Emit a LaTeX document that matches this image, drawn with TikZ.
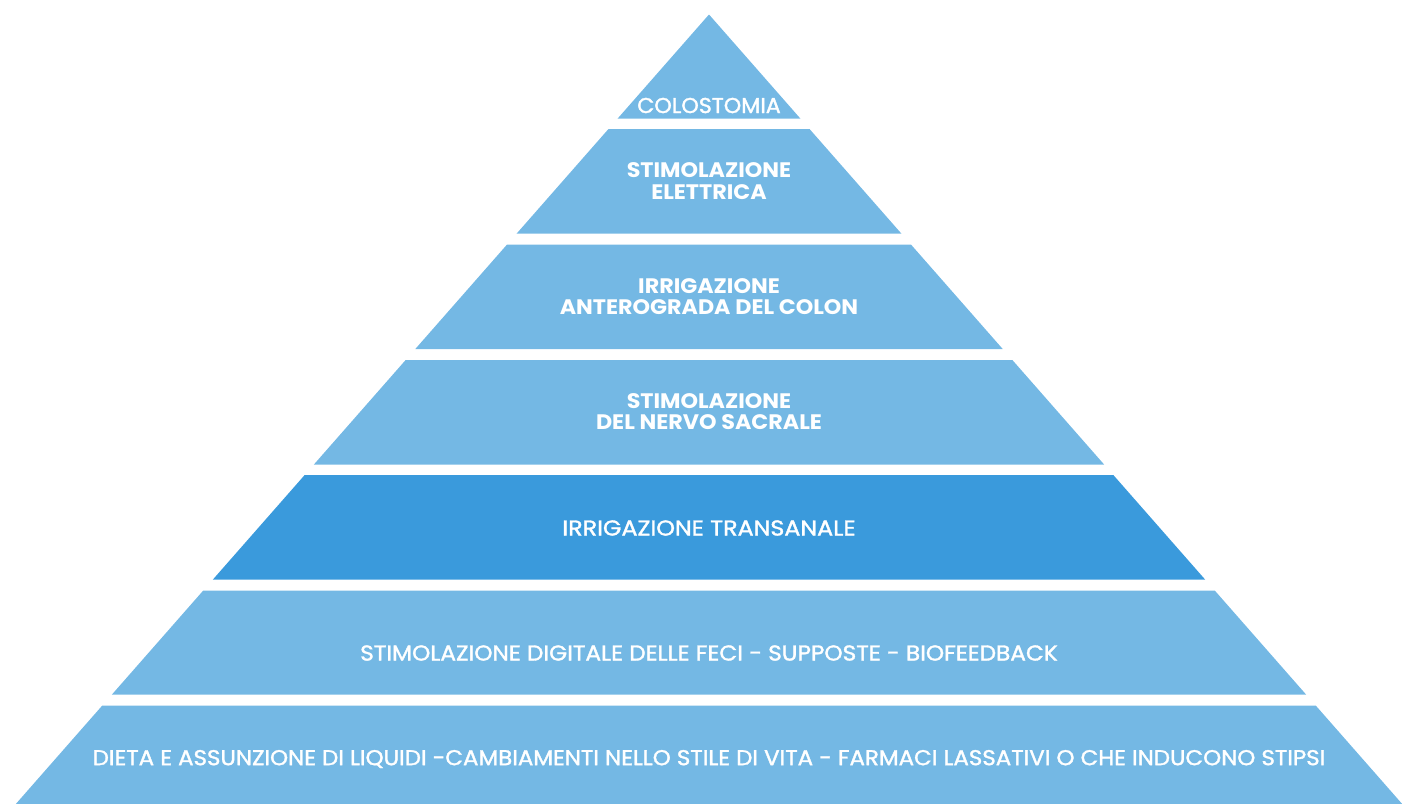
\documentclass[tikz,border=0pt]{standalone}
\usepackage{fontspec}
\setmainfont{Poppins}
\newfontfamily\medfont{Poppins}[FakeBold=1.5]
\definecolor{lightblue}{HTML}{74B8E4}
\definecolor{darkblue}{HTML}{3A9ADC}
\tikzset{
  lvl/.style={fill=lightblue, draw=none},
  lvldark/.style={fill=darkblue, draw=none},
  lbl/.style={text=white, font=\fontsize{21.5}{21.5}\selectfont\medfont, align=center, inner sep=0pt, xscale=1.08},
  lblb/.style={text=white, font=\fontsize{21}{21.5}\selectfont\bfseries, align=center, inner sep=0pt, xscale=1.06}
}
\newcommand{\hw}[1]{0.878*(#1-14.5)}
\begin{document}
\begin{tikzpicture}[x=1pt,y=-1pt]
\useasboundingbox (0,0) rectangle (1402,803);
% apex triangle
\fill[lvl] (709,14.5) -- ({709+\hw{118.5}},118.5) -- ({709-\hw{118.5}},118.5) -- cycle;
\foreach \t/\b/\s in {129/233.5/lvl, 244.5/349/lvl, 360/464.5/lvl, 475/579.5/lvldark, 590.5/694.5/lvl, 705.5/806/lvl}{
  \fill[\s] ({709-\hw{\t}},\t) -- ({709+\hw{\t}},\t) -- ({709+\hw{\b}},\b) -- ({709-\hw{\b}},\b) -- cycle;
}
\node[lbl, xscale=0.955] (l1) at (709,105.5) {COLOSTOMIA};
\node[lblb] (l2) at (709,181) {STIMOLAZIONE\\ELETTRICA};
\node[lblb] (l3) at (709,296.5) {IRRIGAZIONE\\ANTEROGRADA DEL COLON};
\node[lblb] (l4) at (709,411.5) {STIMOLAZIONE\\DEL NERVO SACRALE};
\node[lbl, xscale=1.025] (l5) at (709,528) {IRRIGAZIONE TRANSANALE};
\node[lbl] (l6) at (709,653) {STIMOLAZIONE DIGITALE DELLE FECI - SUPPOSTE - BIOFEEDBACK};
\node[lbl, xscale=0.987] (l7) at (709,759) {DIETA E ASSUNZIONE DI LIQUIDI -CAMBIAMENTI NELLO STILE DI VITA - FARMACI LASSATIVI O CHE INDUCONO STIPSI};
\end{tikzpicture}
\end{document}
